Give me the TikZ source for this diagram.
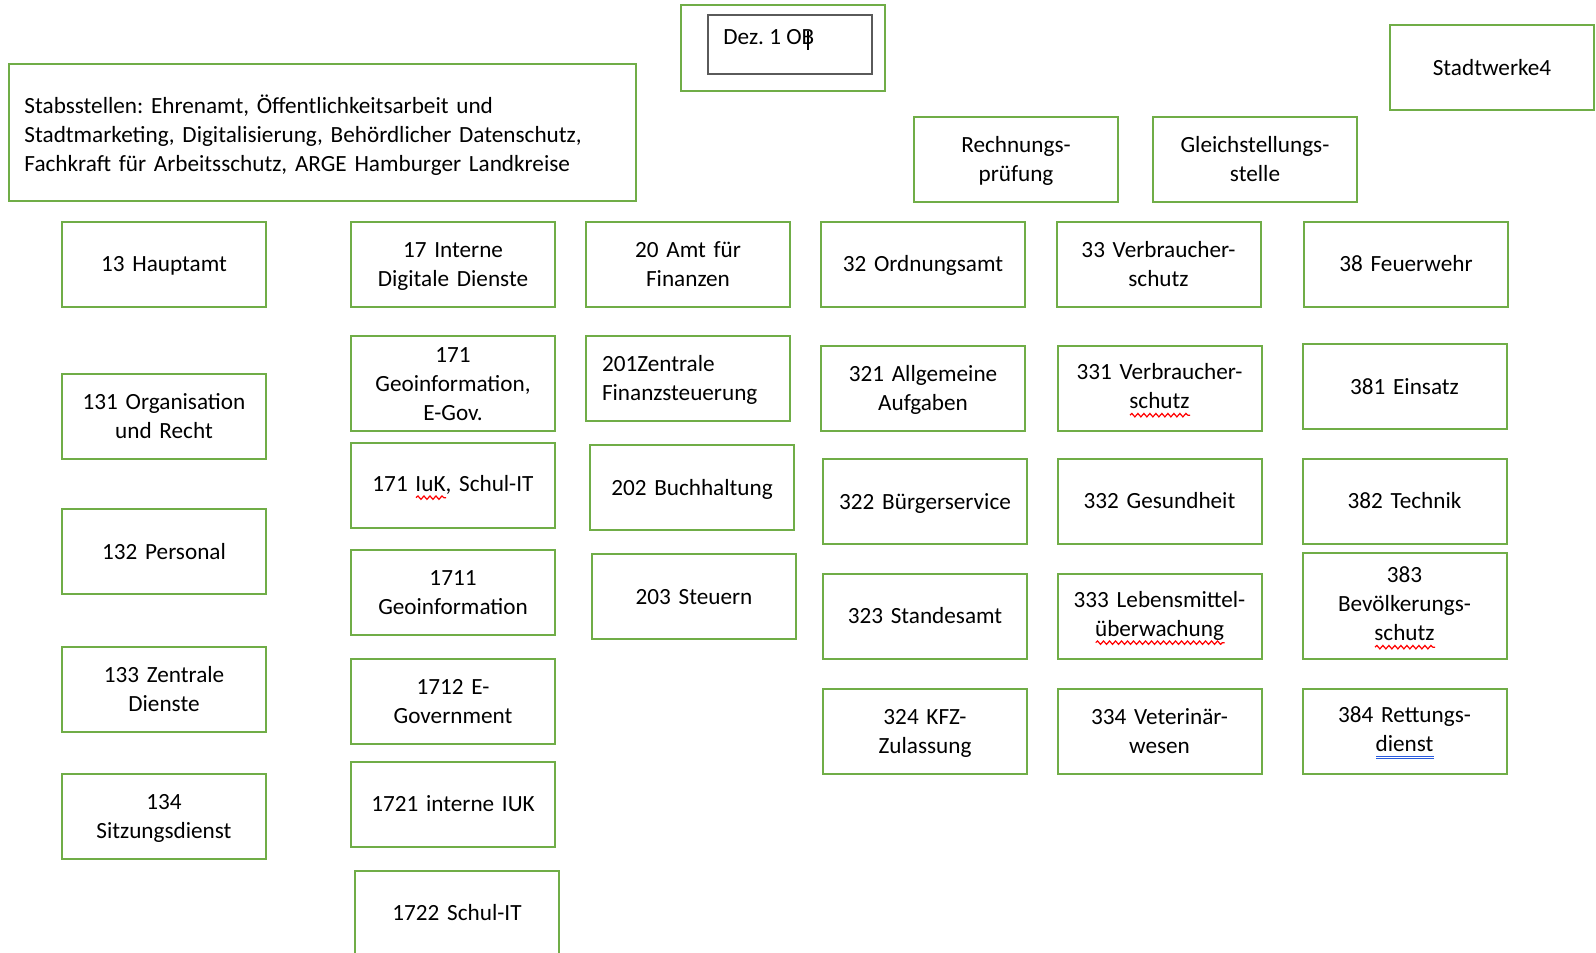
\documentclass[tikz,border=0pt]{standalone}
\usepackage{fontspec}
\setmainfont{Carlito}
\usetikzlibrary{decorations.pathmorphing}
\frenchspacing

\definecolor{ogruen}{RGB}{112,173,71}
\definecolor{rahmengrau}{RGB}{90,90,90}
\definecolor{wortblau}{RGB}{40,90,220}

% Zeilenstuetze fuer die vertikale Lage des Textes
\newcommand{\zs}{\rule[-2.5pt]{0pt}{12.5pt}}

% Markierungen der Rechtschreibpruefung
\newdimen\wortbreite
\newcommand{\rechtschreib}[1]{\leavevmode\begingroup\setbox0\hbox{#1}\global\wortbreite=\wd0
  \rlap{\tikz[baseline=0pt, x=1pt, y=1pt]{\draw[red, line width=0.6pt, decorate,
    decoration={snake, amplitude=0.85pt, segment length=3pt}] (0pt,-3.3pt) -- (\wortbreite,-3.3pt);}}\box0\endgroup}
\newcommand{\grammatik}[1]{\leavevmode\begingroup\setbox0\hbox{#1}\global\wortbreite=\wd0
  \rlap{\tikz[baseline=0pt, x=1pt, y=1pt]{\draw[wortblau, line width=0.55pt]
    (0pt,-2.7pt) -- (\wortbreite,-2.7pt) (0pt,-3.7pt) -- (\wortbreite,-3.7pt);}}\box0\endgroup}

\begin{document}
\begin{tikzpicture}[x=0.5pt, y=-0.5pt,
  amt/.style={draw=ogruen, line width=1pt, minimum width=102pt, minimum height=42.5pt,
    inner sep=1pt, text width=100pt, align=center, font=\fontsize{11.6}{14.5}\selectfont,
    execute at begin node=\zs, execute at end node=\zs}]

\clip (0,0) rectangle (1596,953);

% Dezernat und Stabsstellen
\node[amt, minimum height=43pt] (dez) at (783,48) {};
\node[draw=rahmengrau, line width=0.6pt, minimum width=82pt, minimum height=29.5pt, inner sep=0pt] (dezfeld) at (790,44.5) {};
\node[anchor=west, inner sep=0pt, font=\fontsize{11.6}{14.5}\selectfont] (deztext) at (723,37) {Dez. 1 OB};
\draw[line width=0.8pt] (808,31) -- (808,50);

\node[amt, minimum width=313.5pt, minimum height=68.5pt, text width=298pt, align=left,
      execute at begin node=\rule{0pt}{12.5pt}] (stab) at (322.5,132.5)
  {Stabsstellen: Ehrenamt, Öffentlichkeitsarbeit und\\
   Stadtmarketing, Digitalisierung, Behördlicher Datenschutz,\\
   Fachkraft für Arbeitsschutz, ARGE Hamburger Landkreise};

\node[amt] (swerke) at (1492,67.5) {Stadtwerke4};
\node[amt] (rpa) at (1016,159) {Rechnungs-\\prüfung};
\node[amt] (gleich) at (1255,159) {Gleichstellungs-\\stelle};

% Aemter
\node[amt] (a13) at (164,264) {13 Hauptamt};
\node[amt] (a17) at (453,264) {17 Interne\\Digitale Dienste};
\node[amt] (a20) at (688,264) {20 Amt für\\Finanzen};
\node[amt] (a32) at (923,264) {32 Ordnungsamt};
\node[amt] (a33) at (1158.5,264) {33 Verbraucher-\\schutz};
\node[amt] (a38) at (1406,264) {38 Feuerwehr};

% Abteilungen Hauptamt
\node[amt] (a131) at (164,416) {131 Organisation\\und Recht};
\node[amt] (a132) at (164,551.5) {132 Personal};
\node[amt] (a133) at (164,689.5) {133 Zentrale\\Dienste};
\node[amt] (a134) at (164,816) {134\\Sitzungsdienst};

% Abteilungen Interne Digitale Dienste
\node[amt, minimum height=47.5pt] (a171g) at (453,383.5) {171\\Geoinformation,\\E-Gov.};
\node[amt] (a171i) at (453,485.5) {171 \rechtschreib{IuK}, Schul-IT};
\node[amt] (a1711) at (453,592.5) {1711\\Geoinformation};
\node[amt] (a1712) at (453,701.5) {1712 E-\\Government};
\node[amt] (a1721) at (453,804) {1721 interne IUK};
\node[amt] (a1722) at (457,913) {1722 Schul-IT};

% Abteilungen Finanzen
\node[amt, text width=86pt, align=left] (a201) at (688,378.5) {201Zentrale\\Finanzsteuerung};
\node[amt] (a202) at (692,487.5) {202 Buchhaltung};
\node[amt] (a203) at (694,596.5) {203 Steuern};

% Abteilungen Ordnungsamt
\node[amt] (a321) at (923,388.5) {321 Allgemeine\\Aufgaben};
\node[amt] (a322) at (925,501.5) {322 Bürgerservice};
\node[amt] (a323) at (925,616) {323 Standesamt};
\node[amt] (a324) at (925,731) {324 KFZ-\\Zulassung};

% Abteilungen Verbraucherschutz
\node[amt] (a331) at (1159.5,388.5) {331 Verbraucher-\\\rechtschreib{schutz}};
\node[amt] (a332) at (1159.5,501) {332 Gesundheit};
\node[amt] (a333) at (1159.5,616) {333 Lebensmittel-\\\rechtschreib{überwachung}};
\node[amt] (a334) at (1159.5,731) {334 Veterinär-\\wesen};

% Abteilungen Feuerwehr
\node[amt] (a381) at (1404.5,386.5) {381 Einsatz};
\node[amt] (a382) at (1404.5,501) {382 Technik};
\node[amt, minimum height=53pt] (a383) at (1404.5,606) {383\\Bevölkerungs-\\\rechtschreib{schutz}};
\node[amt] (a384) at (1404.5,731) {384 Rettungs-\\\grammatik{dienst}};

\end{tikzpicture}
\end{document}
